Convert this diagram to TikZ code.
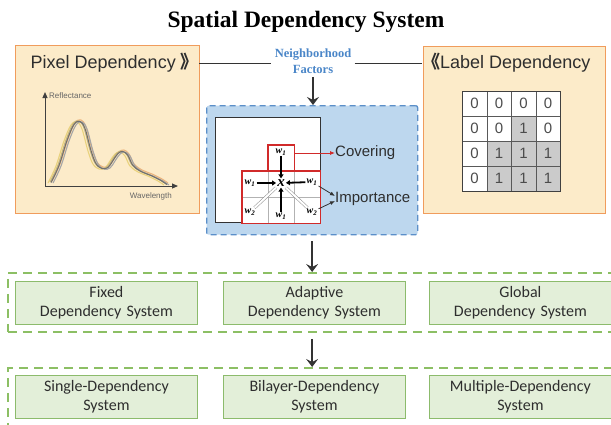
\documentclass[tikz,border=0pt]{standalone}
\usepackage{fontspec}
\setmainfont{Liberation Serif}
\setsansfont{Liberation Sans}
\newfontfamily\calibri{Carlito}
\newfontfamily\cjk{Noto Sans CJK SC}
\usetikzlibrary{calc,arrows.meta}

\definecolor{peach}{HTML}{FCEBC9}
\definecolor{peachline}{HTML}{F09C5C}
\definecolor{skyfill}{HTML}{BDD7EE}
\definecolor{skyline}{HTML}{5B8FC9}
\definecolor{factorblue}{HTML}{4A86C8}
\definecolor{mintfill}{HTML}{E3EFD9}
\definecolor{mintline}{HTML}{8CBB6C}
\definecolor{dashgreen}{HTML}{8CBF64}
\definecolor{cell0}{HTML}{FFFFFF}
\definecolor{cell1}{HTML}{CBCBCB}
\definecolor{inkgray}{HTML}{2E2E2E}
\definecolor{crossred}{HTML}{D12A2A}
\definecolor{curveyellow}{HTML}{E9D27C}
\definecolor{curveorange}{HTML}{EBB37C}
\definecolor{curvegray}{HTML}{A6A6A6}
\definecolor{curvedark}{HTML}{707070}
\definecolor{curvetan}{HTML}{C9B67A}

\tikzstyle{panel} = [rectangle, draw=peachline, fill=peach, line width=1.3pt, anchor=north west, inner sep=0pt]
\tikzstyle{headtext} = [font=\sffamily\fontsize{18}{18}\selectfont, text=inkgray, inner sep=0pt]
\tikzstyle{smalltext} = [font=\sffamily\fontsize{8}{8}\selectfont, text=black!60, inner sep=1pt]
\tikzstyle{gridcell} = [rectangle, draw=black!65, minimum width=24.5pt, minimum height=25pt, inner sep=0pt, anchor=north west, font=\sffamily\fontsize{15}{15}\selectfont, text=black!70]
\tikzstyle{nbcell} = [rectangle, draw=black!30, minimum size=26pt, inner sep=0pt, anchor=north west, fill=white]
\tikzstyle{greenbox} = [rectangle, draw=mintline, fill=mintfill, line width=1.2pt, minimum width=177pt, minimum height=43pt, text width=175pt, text centered, anchor=north west, font=\calibri\fontsize{16}{19}\selectfont, text=inkgray]
\tikzstyle{greendash} = [rectangle, draw=dashgreen, line width=1.8pt, dash pattern=on 9pt off 6pt, anchor=north west, inner sep=0pt]
\tikzstyle{bigarrow} = [draw=black!80, line width=1.4pt, -{Stealth[length=8pt, width=12pt, inset=3pt]}]
\tikzstyle{warrow} = [draw=black, line width=1.8pt, -{Triangle[length=4pt, width=5pt]}]
\tikzstyle{hollow} = [draw=black!45, double=white, double distance=2pt, line width=0.5pt]
\tikzstyle{wtext} = [font=\bfseries\itshape\fontsize{10}{10}\selectfont, inner sep=1pt]

\newcommand{\wlab}[1]{w\textsubscript{#1}}

\begin{document}
\begin{tikzpicture}[x=1pt,y=-1pt]

    \useasboundingbox (0,0) rectangle (611,424);
    \clip (0,0) rectangle (611,424);

    \node (title) [font=\bfseries\fontsize{23.5}{24}\selectfont] at (306,22) {Spatial Dependency System};

    % two panels on top
    \node (pixbox) [panel, minimum width=184pt, minimum height=168pt] at (15,45) {};
    \node (labbox) [panel, minimum width=182pt, minimum height=167pt] at (423,46) {};
    \node (pixtitle) [headtext, anchor=east] at (199,63) {Pixel Dependency {\cjk\bfseries 》}};
    \node (labtitle) [headtext, anchor=west] at (422,63) {{\cjk\bfseries 《}Label Dependency};

    \node (nbr) [font=\bfseries\fontsize{12.5}{16}\selectfont, text=factorblue, align=center] at (313,61) {Neighborhood\\Factors};
    \draw[line width=1pt, black!80] (pixtitle.east) -- (nbr.west |- pixtitle.east);
    \draw[line width=1pt, black!80] (nbr.east |- labtitle.west) -- (labtitle.west);

    % spectrum plot
    \draw[black!75, line width=1pt, -{Triangle[length=6pt, width=5pt]}] (45,186) -- (45,92);
    \draw[black!75, line width=1pt, -{Triangle[length=6pt, width=5pt]}] (45,186) -- (178,186);
    \node (refl) [smalltext, anchor=west] at (48,96) {Reflectance};
    \node (wave) [smalltext, anchor=north east] at (173,191) {Wavelength};
    \foreach \dx/\dy/\col in {-2/1/curveyellow, 2/-1/curveorange, 3/1/curvegray, 0/0/curvetan, 1/0.5/curvedark} {
        \draw[\col, line width=1.1pt, shift={(\dx,\dy)}] plot[smooth, tension=0.6] coordinates {(50,182) (58,165) (66,140) (73,124) (79,121) (84,128) (90,150) (95,163) (101,168) (107,167) (112,160) (117,153) (122,151) (127,155) (132,165) (140,171) (150,175) (160,180) (166,184)};
    }

    % label grid
    \foreach \row [count=\r from 0] in {{0,0,0,0},{0,0,1,0},{0,1,1,1},{0,1,1,1}} {
        \foreach \v [count=\c from 0] in \row {
            \node (g-\r-\c) [gridcell, fill=cell\v] at (462+\c*24.5, 91+\r*25) {\v};
        }
    }
    \draw[black!75, line width=1pt] (g-0-0.north west) rectangle (g-3-3.south east);

    % neighborhood box
    \node (nbrbox) [rectangle, draw=skyline, fill=skyfill, line width=1.3pt, dash pattern=on 6pt off 4pt, rounded corners=2pt, anchor=north west, minimum width=211pt, minimum height=129pt] at (206,105) {};
    \node (patch) [rectangle, draw=black!80, fill=white, line width=1pt, minimum size=105pt, inner sep=0pt, anchor=north west] at (215,117) {};

    \node (nb-t) [nbcell] at (268,145) {};
    \node (nb-l) [nbcell] at (242,171) {};
    \node (nb-c) [nbcell] at (268,171) {};
    \node (nb-r) [nbcell] at (294,171) {};
    \node (nb-bl) [nbcell] at (242,197) {};
    \node (nb-b) [nbcell] at (268,197) {};
    \node (nb-br) [nbcell] at (294,197) {};
    \draw[crossred, line width=1.2pt] (nb-t.north west) rectangle (nb-t.south east);
    \draw[crossred, line width=1.2pt] (nb-l.north west) rectangle (nb-br.south east);

    \node (xc) [font=\bfseries\itshape\fontsize{15}{15}\selectfont, inner sep=1pt] at (281,183) {x};
    \node (w-t) [wtext] at (281,152) {\wlab{1}};
    \node (w-l) [wtext] at (250,183) {\wlab{1}};
    \node (w-r) [wtext] at (312,182) {\wlab{1}};
    \node (w-b) [wtext] at (281,216) {\wlab{1}};
    \node (w-bl) [wtext] at (250,212) {\wlab{2}};
    \node (w-br) [wtext] at (312,212) {\wlab{2}};

    \draw[warrow] (w-t) -- (xc);
    \draw[warrow] (w-l) -- (xc);
    \draw[warrow] (w-r) -- (xc);
    \draw[warrow] (w-b) -- (xc);
    \draw[hollow] (w-bl) -- (xc);
    \draw[hollow] (w-br) -- (xc);

    \node (cov) [font=\sffamily\fontsize{15}{15}\selectfont, text=inkgray, anchor=west, inner sep=0pt] at (335,153) {Covering};
    \node (imp) [font=\sffamily\fontsize{15}{15}\selectfont, text=inkgray, anchor=west, inner sep=0pt] at (335,199) {Importance};
    \draw[crossred, line width=0.8pt, -{Latex[length=5pt, width=4pt]}] (nb-t.east |- cov.west) -- (cov.west);
    \draw[black!80, line width=0.8pt, -{Latex[length=5pt, width=4pt]}] (w-r) -- ($(imp.west)+(0,-3)$);
    \draw[black!80, line width=0.8pt, -{Latex[length=5pt, width=4pt]}] (w-br) -- ($(imp.west)+(0,2)$);

    \draw[bigarrow] (nbr.south) -- (nbr.south |- nbrbox.north);

    % system layers
    \node (layer1) [greendash, minimum width=620pt, minimum height=59pt] at (7,272) {};
    \node (layer2) [greendash, minimum width=620pt, minimum height=70pt] at (7,367) {};

    \draw[bigarrow, shorten <=6pt] (nbrbox.south) -- (nbrbox.south |- layer1.north);
    \draw[bigarrow, shorten <=6pt] (nbrbox.south |- layer1.south) -- (nbrbox.south |- layer2.north);

    \node (fixed) [greenbox] at (15,281) {Fixed\\Dependency System};
    \node (adapt) [greenbox] at (223,281) {Adaptive\\Dependency System};
    \node (global) [greenbox] at (429,281) {Global\\Dependency System};

    \node (single) [greenbox] at (15,375) {Single-Dependency\\System};
    \node (bilayer) [greenbox] at (223,375) {Bilayer-Dependency\\System};
    \node (multi) [greenbox] at (429,375) {Multiple-Dependency\\System};

\end{tikzpicture}
\end{document}
